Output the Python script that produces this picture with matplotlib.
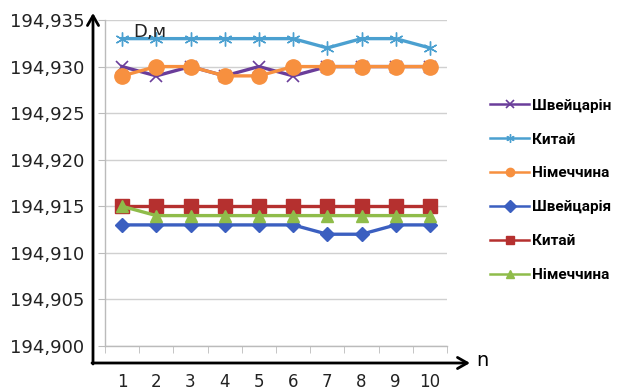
import matplotlib
matplotlib.use("Agg")
import matplotlib.pyplot as plt
from matplotlib.ticker import FuncFormatter, FixedLocator

n = [1, 2, 3, 4, 5, 6, 7, 8, 9, 10]
y_ticks = [194.900, 194.905, 194.910, 194.915, 194.920, 194.925, 194.930, 194.935]

shv1 = [194.930, 194.929, 194.930, 194.929, 194.930, 194.929, 194.930, 194.930, 194.930, 194.930]
kyt1 = [194.933, 194.933, 194.933, 194.933, 194.933, 194.933, 194.932, 194.933, 194.933, 194.932]
nim1 = [194.929, 194.930, 194.930, 194.929, 194.929, 194.930, 194.930, 194.930, 194.930, 194.930]
shv2 = [194.913, 194.913, 194.913, 194.913, 194.913, 194.913, 194.912, 194.912, 194.913, 194.913]
kyt2 = [194.915] * 10
nim2 = [194.915, 194.914, 194.914, 194.914, 194.914, 194.914, 194.914, 194.914, 194.914, 194.914]

labels = ["Швейцарін", "Китай", "Німеччина", "Швейцарія", "Китай", "Німеччина"]

W, H = 617, 392
fig = plt.figure(figsize=(W / 100, H / 100), dpi=100)
ax = fig.add_axes([105 / W, 1 - 346 / H, (447 - 105) / W, (346 - 20) / H])

series = [
    (shv1, dict(color="#6a3d9a", marker="x", ms=9, mew=1.2)),
    (kyt1, dict(color="#4ba0d0", marker=(6, 2, 0), ms=10, mew=1.0)),
    (nim1, dict(color="#f7903f", marker="o", ms=11, mec="#f7903f")),
    (shv2, dict(color="#3b5fc0", marker="D", ms=7)),
    (kyt2, dict(color="#b5302f", marker="s", ms=10)),
    (nim2, dict(color="#8fbc4a", marker="^", ms=9)),
]
for (vals, st), lab in zip(series, labels):
    ax.plot(n, vals, lw=2.4, label=lab, **st)

ax.set_xlim(0.5, 10.5)
ax.set_ylim(194.900, 194.935)
ax.set_yticks(y_ticks)
ax.yaxis.set_major_formatter(FuncFormatter(lambda v, p: f"{v:.3f}".replace(".", ",")))
ax.set_xticks(n)
ax.set_xticklabels([str(i) for i in n])
ax.xaxis.set_minor_locator(FixedLocator([i + 0.5 for i in range(0, 11)]))
ax.tick_params(axis="x", which="major", length=0, pad=19.5, labelsize=12, labelcolor="#222222")
ax.tick_params(axis="x", which="minor", length=5, color="#bbbbbb", direction="out")
ax.tick_params(axis="y", length=5, color="#bbbbbb", pad=10, labelsize=13, labelcolor="#222222")
ax.grid(axis="y", color="#d0d0d0", lw=1)
ax.set_axisbelow(True)
for s in ["top", "right"]:
    ax.spines[s].set_visible(False)
for s in ["left", "bottom"]:
    ax.spines[s].set_color("#bbbbbb")
    ax.spines[s].set_linewidth(1)

arrow = dict(arrowstyle="->,head_length=0.7,head_width=0.4", lw=2, color="black", shrinkA=0, shrinkB=0)
ax.annotate("", xy=(93, H - 13), xytext=(93, H - 364), xycoords="figure pixels",
            textcoords="figure pixels", arrowprops=arrow, annotation_clip=False)
ax.annotate("", xy=(470, H - 363), xytext=(92, H - 363), xycoords="figure pixels",
            textcoords="figure pixels", arrowprops=arrow, annotation_clip=False)
fig.text(476 / W, 1 - 360 / H, "n", fontsize=14, va="center", ha="left")
fig.text(133 / W, 1 - 32 / H, "D,м", fontsize=13, va="center", ha="left", color="#222222")

leg = fig.legend(loc="upper left", bbox_to_anchor=(476 / W, 1 - 85 / H), frameon=False,
                 handlelength=2.6, labelspacing=1.3, handletextpad=0.15,
                 prop=dict(family=["Roboto", "DejaVu Sans"], weight="bold", size=11))
for h in leg.legend_handles:
    h.set_markersize(6)
    h.set_linewidth(1.8)

fig.savefig("out.png", dpi=100)
